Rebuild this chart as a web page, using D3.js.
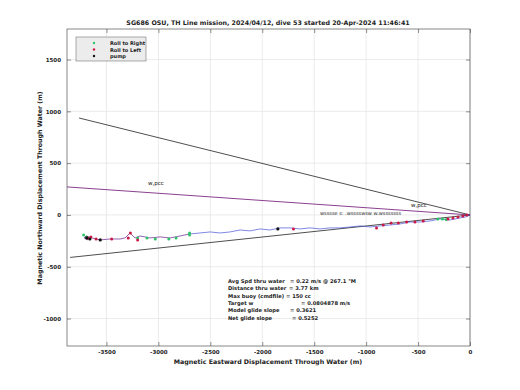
<!DOCTYPE html>
<html>
<head>
<meta charset="utf-8">
<script src="https://cdn.jsdelivr.net/npm/d3@7"></script>
<style>
  body { margin: 0; background: #fff; }
  text { font-family: "DejaVu Sans", sans-serif; }
</style>
</head>
<body>
<script>
// track through water (m east, m north)
var trackX = [0, -39, -96, -193, -289, -385, -481, -578, -674, -770, -866, -963, -1059, -1155, -1252, -1348,
  -1444, -1540, -1637, -1733, -1829, -1925, -2022, -2118, -2214, -2310, -2407, -2503, -2599, -2696, -2792,
  -2888, -2984, -3081, -3177, -3225, -3273, -3321, -3369, -3466, -3562, -3639, -3697, -3716, -3678, -3706];
var trackY = [0, -19, -29, -48, -39, -58, -68, -68, -87, -97, -106, -116, -106, -116, -125, -125,
  -135, -125, -135, -125, -125, -145, -135, -154, -145, -164, -174, -164, -174, -183, -203,
  -222, -212, -222, -203, -222, -174, -222, -232, -232, -241, -222, -203, -222, -241, -212];

var rightX = [-3720, -3200, -3110, -3030, -2900, -2830, -2700, -2700, -265, -310, -230, -3690];
var rightY = [-193, -222, -222, -232, -232, -222, -174, -193, -39, -39, -45, -212];
var leftX = [-3650, -3680, -3600, -3450, -3290, -3270, -3200, -30, -68, -116, -164, -212, -450, -530, -610,
  -690, -760, -835, -900, -1700];
var leftY = [-212, -222, -232, -232, -222, -174, -241, -0, -10, -19, -29, -39, -58, -68, -68,
  -77, -77, -97, -125, -135];
var pumpX = [-3690, -3660, -3560, -1850];
var pumpY = [-222, -232, -241, -135];

// reference lines from the surface position
var lineBlack1 = [[-3764, 936], [0, 0]];
var lineBlack2 = [[-3850, -410], [0, 0]];
var linePurple = [[-3900, 272], [0, 0]];

var xTicks = [-3500, -3000, -2500, -2000, -1500, -1000, -500, 0];
var yTicks = [-1000, -500, 0, 500, 1000, 1500];

var statLabels = ['Avg Spd thru water', 'Distance thru water', 'Max buoy (cmdfile)', 'Target w', 'Model glide slope', 'Net glide slope'];
var statValues = ['=  0.22 m/s @ 267.1  \u00b0M', '= 3.77 km', '= 150 cc', '= 0.0804878 m/s', '= 0.3621', '= 0.5252'];
var statValX = [290, 289, 286, 301, 290, 292];

var width = 520, height = 390;
var pl = 67, pr = 470, pt = 29, pb = 346;

var x = d3.scaleLinear().domain([-3880, 0]).range([pl, pr]);
var y = d3.scaleLinear().domain([-1265, 1795]).range([pb, pt]);

var svg = d3.select('body').append('svg')
    .attr('width', width)
    .attr('height', height);

svg.append('rect').attr('width', width).attr('height', height).attr('fill', '#fff');

svg.append('defs').append('clipPath').attr('id', 'clip')
    .append('rect').attr('x', pl).attr('y', pt)
    .attr('width', pr - pl).attr('height', pb - pt);

// grid
svg.append('g').selectAll('line').data(xTicks).enter().append('line')
    .attr('x1', d => x(d)).attr('x2', d => x(d))
    .attr('y1', pt).attr('y2', pb)
    .attr('stroke', '#e2e2e2').attr('stroke-width', 0.7);
svg.append('g').selectAll('line').data(yTicks).enter().append('line')
    .attr('y1', d => y(d)).attr('y2', d => y(d))
    .attr('x1', pl).attr('x2', pr)
    .attr('stroke', '#e2e2e2').attr('stroke-width', 0.7);

// axes (ticks inside, matlab style)
var fmt = d => String(d);
var xAx = svg.append('g').attr('transform', 'translate(0,' + pb + ')')
    .call(d3.axisBottom(x).tickValues(xTicks).tickSizeInner(-4).tickSizeOuter(0).tickPadding(6).tickFormat(fmt));
var xAxTop = svg.append('g').attr('transform', 'translate(0,' + pt + ')')
    .call(d3.axisTop(x).tickValues(xTicks).tickSizeInner(-4).tickSizeOuter(0).tickFormat(''));
var yAx = svg.append('g').attr('transform', 'translate(' + pl + ',0)')
    .call(d3.axisLeft(y).tickValues(yTicks).tickSizeInner(-4).tickSizeOuter(0).tickPadding(6).tickFormat(fmt));
var yAxR = svg.append('g').attr('transform', 'translate(' + pr + ',0)')
    .call(d3.axisRight(y).tickValues(yTicks).tickSizeInner(-4).tickSizeOuter(0).tickFormat(''));
[xAx, xAxTop, yAx, yAxR].forEach(function (g) {
    g.select('.domain').remove();
    g.selectAll('line').attr('stroke', '#444').attr('stroke-width', 0.6);
    g.selectAll('text').attr('font-size', 5.5).attr('font-weight', 'bold').attr('fill', '#222')
        .attr('font-family', '"DejaVu Sans", sans-serif');
});
xAx.selectAll('text').attr('dy', '0.4em');

svg.append('rect')
    .attr('x', pl).attr('y', pt)
    .attr('width', pr - pl).attr('height', pb - pt)
    .attr('fill', 'none').attr('stroke', '#555').attr('stroke-width', 0.7);

var plot = svg.append('g').attr('clip-path', 'url(#clip)');
var line = d3.line().x(d => x(d[0])).y(d => y(d[1]));

plot.append('path').attr('d', line(lineBlack1)).attr('stroke', '#222').attr('stroke-width', 0.8).attr('fill', 'none');
plot.append('path').attr('d', line(lineBlack2)).attr('stroke', '#222').attr('stroke-width', 0.8).attr('fill', 'none');
plot.append('path').attr('d', line(linePurple)).attr('stroke', '#7d2a82').attr('stroke-width', 0.9).attr('fill', 'none');

// track: blue on the east part, purplish on the west part where it gets busy
var track = trackX.map((d, i) => [d, trackY[i]]);
var split = 29;
plot.append('path').attr('d', line(track.slice(0, split + 1)))
    .attr('stroke', '#4a55d8').attr('stroke-width', 0.7).attr('fill', 'none');
plot.append('path').attr('d', line(track.slice(split)))
    .attr('stroke', '#7a3c9c').attr('stroke-width', 0.8).attr('fill', 'none');

function dots(xs, ys, color, r) {
    plot.append('g').selectAll('circle').data(xs).enter().append('circle')
        .attr('cx', d => x(d)).attr('cy', (d, i) => y(ys[i]))
        .attr('r', r).attr('fill', color);
}
dots(rightX, rightY, '#2fc46a', 1.5);
dots(leftX, leftY, '#cc1846', 1.5);
dots(pumpX, pumpY, '#111', 1.6);

// line labels
plot.append('text').attr('x', 148).attr('y', 185).attr('font-size', 5.5).attr('fill', '#222').text('w,pcc');
plot.append('text').attr('x', 411).attr('y', 207).attr('font-size', 5.5).attr('fill', '#222').text('w,pcc');
plot.append('text').attr('x', 320).attr('y', 215).attr('font-size', 5).attr('fill', '#222')
    .text('wsssse s: .wsssswsw w.wsssssss');

// stats box text
statLabels.forEach(function (s, i) {
    var yy = 283 + i * 7.3;
    svg.append('text').attr('x', 228).attr('y', yy).attr('font-size', 5.2).attr('font-weight', 'bold')
        .attr('fill', '#222').text(s);
    svg.append('text').attr('x', statValX[i]).attr('y', yy).attr('font-size', 5.2).attr('font-weight', 'bold')
        .attr('fill', '#222').text(statValues[i]);
});

// legend
var leg = svg.append('g');
leg.append('rect').attr('x', 76).attr('y', 37).attr('width', 70).attr('height', 24)
    .attr('fill', '#ececec').attr('stroke', '#777').attr('stroke-width', 0.6);
var legNames = ['Roll to Right', 'Roll to Left', 'pump'];
var legColors = ['#2fc46a', '#cc1846', '#111'];
legNames.forEach(function (n, i) {
    var yy = 43 + i * 6.5;
    leg.append('circle').attr('cx', 94).attr('cy', yy).attr('r', 1.2).attr('fill', legColors[i]);
    leg.append('text').attr('x', 110).attr('y', yy + 2).attr('font-size', 5).attr('font-weight', 'bold')
        .attr('fill', '#222').text(n);
});

// titles
svg.append('text').attr('x', 268).attr('y', 25).attr('text-anchor', 'middle')
    .attr('font-size', 6.3).attr('font-weight', 'bold').attr('fill', '#222')
    .text('SG686 OSU, TH Line mission, 2024/04/12, dive 53 started 20-Apr-2024 11:46:41');
svg.append('text').attr('x', 268).attr('y', 364).attr('text-anchor', 'middle')
    .attr('font-size', 6.3).attr('font-weight', 'bold').attr('fill', '#222')
    .text('Magnetic Eastward Displacement Through Water (m)');
svg.append('text').attr('transform', 'translate(42,188) rotate(-90)').attr('text-anchor', 'middle')
    .attr('font-size', 6.3).attr('font-weight', 'bold').attr('fill', '#222')
    .text('Magnetic Northward Displacement Through Water (m)');
</script>
</body>
</html>
